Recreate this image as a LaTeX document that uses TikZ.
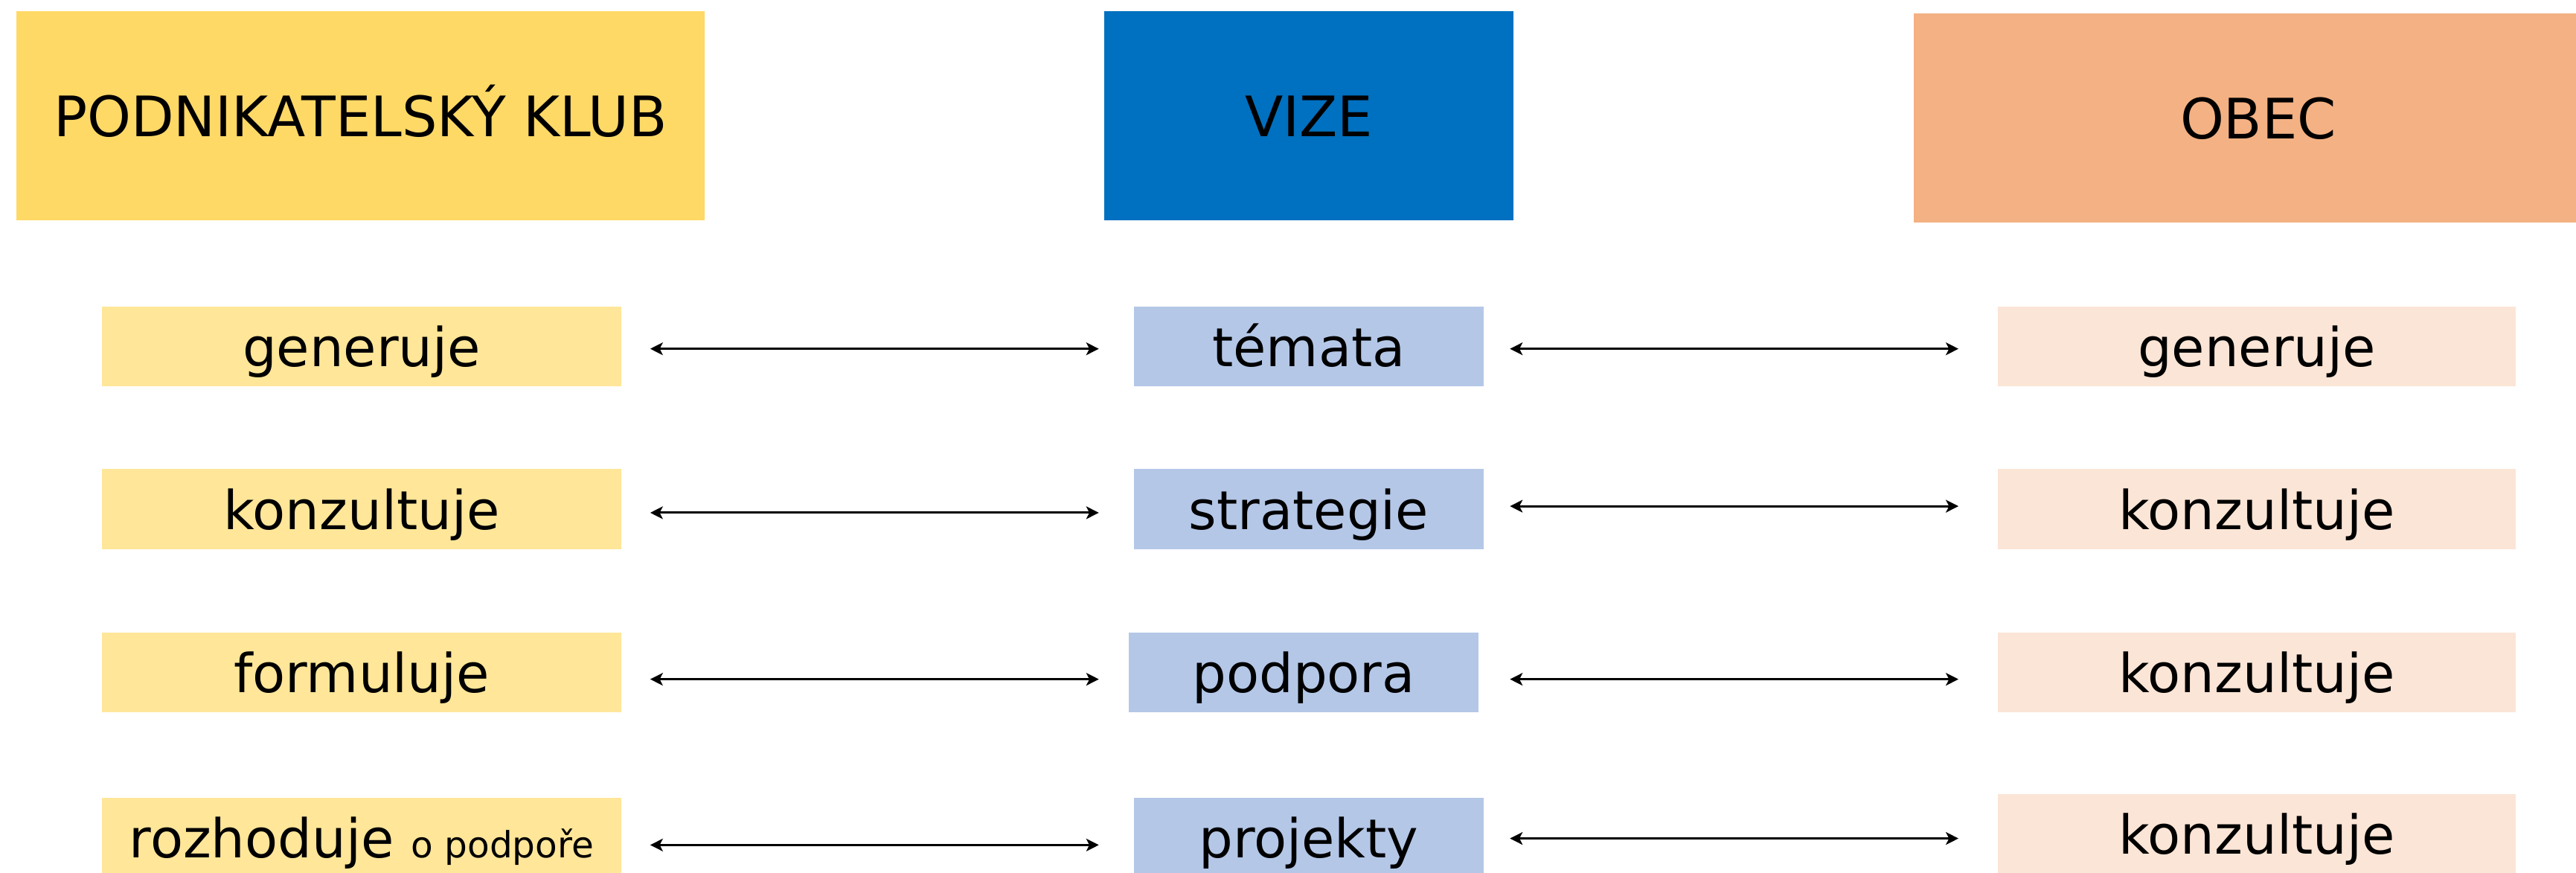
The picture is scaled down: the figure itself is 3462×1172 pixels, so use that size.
\documentclass[tikz,border=0pt]{standalone}
\usepackage{fontspec}
\setmainfont{DejaVu Sans}
\usetikzlibrary{arrows.meta}
\definecolor{pkhead}{HTML}{FFD966}
\definecolor{vizehead}{HTML}{0070C0}
\definecolor{obechead}{HTML}{F4B183}
\definecolor{pkrow}{HTML}{FFE699}
\definecolor{vizerow}{HTML}{B4C7E7}
\definecolor{obecrow}{HTML}{FBE5D6}
\begin{document}
\begin{tikzpicture}[x=0.01cm,y=-0.01cm,
  box/.style={rectangle, inner sep=0pt, outer sep=0pt, draw=none, text=black, anchor=center},
  head/.style={box, minimum height=2.81cm, font=\fontsize{21.3}{25}\selectfont,
    text height=20.3pt, text depth=4.3pt},
  rowbox/.style={box, minimum height=1.07cm, font=\fontsize{20.5}{24}\selectfont,
    text height=19.7pt, text depth=4.1pt},
  lrow/.style={rowbox, fill=pkrow, minimum width=6.98cm},
  mrow/.style={rowbox, fill=vizerow, minimum width=4.70cm},
  rrow/.style={rowbox, fill=obecrow, minimum width=6.96cm},
  lnk/.style={{Stealth[length=4.8pt,width=4.8pt,inset=1.2pt]}-{Stealth[length=4.8pt,width=4.8pt,inset=1.2pt]}, line width=0.85pt},
  lgap/.style={shorten <=11pt, shorten >=13.4pt},
  rgap/.style={shorten <=10pt, shorten >=15pt}]
\useasboundingbox (0,0) rectangle (3462,1172);
\fill[white] (0,0) rectangle (3462,1172);
% headers
\node[head, fill=pkhead, minimum width=9.25cm] (pk) at (484.5,155.5) {PODNIKATELSKÝ KLUB};
\node[head, fill=vizehead, minimum width=5.50cm] (vz) at (1759,155.5) {VIZE};
\node[head, fill=obechead, minimum width=9.26cm, minimum height=2.80cm] (ob) at (3035,158.5) {OBEC};
% left column
\node[lrow] (l1) at (486,465.5) {generuje};
\node[lrow] (l2) at (486,684) {konzultuje};
\node[lrow] (l3) at (486,903.5) {formuluje};
\node[lrow] (l4) at (486,1125.5) {rozhoduje {\fontsize{13.8}{16}\selectfont o podpoře}};
% middle column
\node[mrow] (m1) at (1759,465.5) {témata};
\node[mrow] (m2) at (1759,684) {strategie};
\node[mrow] (m3) at (1752,903.5) {podpora};
\node[mrow] (m4) at (1759,1125.5) {projekty};
% right column
\node[rrow] (r1) at (3033,465.5) {generuje};
\node[rrow] (r2) at (3033,684) {konzultuje};
\node[rrow] (r3) at (3033,903.5) {konzultuje};
\node[rrow] (r4) at (3033,1120.5) {konzultuje};
% connectors
\draw[lnk, lgap] ([yshift=-0.9pt]l1.east) -- ([yshift=-0.9pt]l1.east -| m1.west);
\draw[lnk, rgap] ([yshift=-0.9pt]m1.east) -- ([yshift=-0.9pt]m1.east -| r1.west);
\draw[lnk, lgap] ([yshift=-1.4pt]l2.east) -- ([yshift=-1.4pt]l2.east -| m2.west);
\draw[lnk, rgap] ([yshift=1.1pt]m2.east) -- ([yshift=1.1pt]m2.east -| r2.west);
\draw[lnk, shorten <=11pt, shorten >=11.4pt] ([yshift=-2.6pt]l3.east) -- ([yshift=-2.6pt]l3.east -| m3.west);
\draw[lnk, shorten <=12pt, shorten >=15pt] ([yshift=-2.6pt]m3.east) -- ([yshift=-2.6pt]m3.east -| r3.west);
\draw[lnk, lgap] ([yshift=-2.8pt]l4.east) -- ([yshift=-2.8pt]l4.east -| m4.west);
\draw[lnk, rgap] ([yshift=-0.3pt]m4.east) -- ([yshift=-0.3pt]m4.east -| r4.west);
\end{tikzpicture}
\end{document}
